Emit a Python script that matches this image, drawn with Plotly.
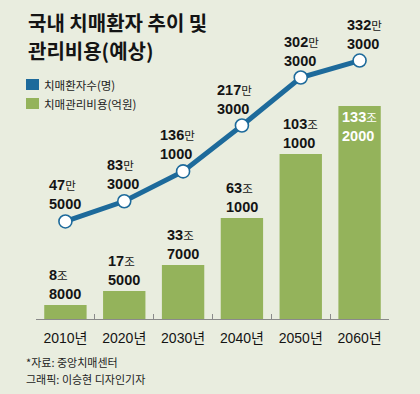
import plotly.graph_objects as go

# ---- data ----
years = ["2010년", "2020년", "2030년", "2040년", "2050년", "2060년"]
patients = [475000, 833000, 1361000, 2173000, 3023000, 3323000]      # 명
cost_eok = [88000, 175000, 337000, 631000, 1031000, 1332000]         # 억원
legend_names = ["치매환자수(명)", "치매관리비용(억원)"]
title_lines = ["국내 치매환자 추이 및", "관리비용(예상)"]
source_lines = ["*자료: 중앙치매센터", "그래픽: 이승현 디자인기자"]

# ---- style ----
W, H = 420, 394
L, R, T, B = 36, 31, 40, 75
BG = "#e9eddf"
BAR = "#94b35b"
LINE = "#1d6a9b"
TXT = "#141414"
KFONT = "Noto Sans CJK KR"
NFONT = "Liberation Sans, Noto Sans CJK KR"
line_label_dx = [0, -1, -6, -7, 1, 5]

pw, ph = W - L - R, H - T - B


def px(x):
    return (x - L) / pw


def py(y):
    return (H - B - y) / ph


patients_man = [p / 10000 for p in patients]
cost_jo = [c / 10000 for c in cost_eok]

fig = go.Figure()
fig.add_trace(go.Bar(
    x=years, y=cost_jo, marker=dict(color=BAR, line=dict(width=0)),
    width=0.72, showlegend=False, hoverinfo="skip", yaxis="y"))
fig.add_trace(go.Scatter(
    x=years, y=patients_man, mode="lines+markers", yaxis="y2",
    line=dict(color=LINE, width=5),
    marker=dict(size=13, color="white", line=dict(color=LINE, width=1.6)),
    showlegend=False, hoverinfo="skip"))

ann = []


def two_line(big, unit, rest):
    return (f"<b>{big}</b><span style='font-size:11.5px;font-weight:normal'>{unit}</span>"
            f"<br><b>{rest:04d}</b>")


for i, (yr, c) in enumerate(zip(years, cost_eok)):
    jo, eok = divmod(c, 10000)
    last = i == len(years) - 1
    ann.append(dict(
        x=yr, y=c / 10000, xref="x", yref="y", text=two_line(jo, "조", eok),
        showarrow=False, align="left", xanchor="center",
        yanchor="top" if last else "bottom", yshift=-1 if last else 1,
        font=dict(family=NFONT, size=14.5, color="white" if last else TXT)))

for i, (yr, p) in enumerate(zip(years, patients)):
    man, rest = divmod(p, 10000)
    ann.append(dict(
        x=yr, y=p / 10000, xref="x", yref="y2", text=two_line(man, "만", rest),
        showarrow=False, align="left", xanchor="center", yanchor="bottom",
        yshift=7, xshift=line_label_dx[i],
        font=dict(family=NFONT, size=14.5, color=TXT)))

# title (two separate lines)
for s, yc in zip(title_lines, [23, 50]):
    ann.append(dict(x=px(26), y=py(yc), xref="paper", yref="paper", text=f"<b>{s}</b>",
                    showarrow=False, xanchor="left", yanchor="middle",
                    font=dict(family=KFONT, size=20, color=TXT)))
# legend
shapes = []
for (y0, y1, col, name, yc) in [(79, 90, LINE, legend_names[0], 85),
                                (98, 109, BAR, legend_names[1], 104)]:
    shapes.append(dict(type="rect", xref="paper", yref="paper",
                       x0=px(26), x1=px(39), y0=py(y1), y1=py(y0),
                       fillcolor=col, line=dict(width=0)))
    ann.append(dict(x=px(42), y=py(yc), xref="paper", yref="paper", text=name,
                    showarrow=False, xanchor="left", yanchor="middle",
                    font=dict(family=KFONT, size=11.5, color="#222")))
# source
for s, yc in zip(source_lines, [362, 379]):
    ann.append(dict(x=px(24), y=py(yc), xref="paper", yref="paper", text=s,
                    showarrow=False, xanchor="left", yanchor="middle",
                    font=dict(family=KFONT, size=11, color="#222")))

fig.update_layout(
    width=W, height=H, autosize=False,
    margin=dict(l=L, r=R, t=T, b=B, pad=0),
    paper_bgcolor=BG, plot_bgcolor=BG,
    bargap=0.28,
    xaxis=dict(type="category", range=[-0.5, 5.5], showline=True, linecolor="#8a8a8a",
               linewidth=1, ticks="inside", ticklen=5, tickcolor="#8a8a8a", tickwidth=1,
               tickson="boundaries", showgrid=False, zeroline=False,
               tickfont=dict(family=NFONT, size=14, color=TXT), ticklabelstandoff=6),
    yaxis=dict(range=[0, ph / 1.6], visible=False, showgrid=False, zeroline=False),
    yaxis2=dict(range=[-(H - B - 248.3) / 0.565, (248.3 - T) / 0.565], overlaying="y",
                visible=False, showgrid=False, zeroline=False),
    annotations=ann, shapes=shapes,
)

fig.write_html("out.html", config={"displayModeBar": False},
               post_script="document.body.style.margin='0px';document.body.style.overflow='hidden';")
